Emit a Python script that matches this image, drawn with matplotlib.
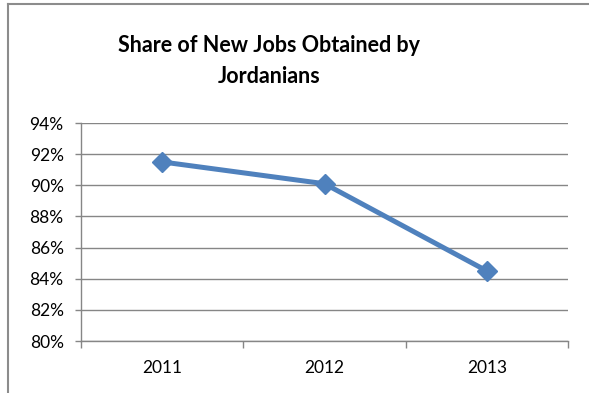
import numpy as np
import matplotlib.pyplot as plt
from matplotlib.lines import Line2D

# Share of new jobs obtained by Jordanians
years = ['2011', '2012', '2013']
share = [91.5, 90.1, 84.5]

yticks = [80, 82, 84, 86, 88, 90, 92, 94]

plt.rcParams['font.family'] = ['Lato', 'DejaVu Sans']

fig = plt.figure(figsize=(5.89, 3.93), dpi=100)
ax = fig.add_axes([81 / 589, 52 / 393, 487 / 589, 218 / 393])

x = np.arange(len(years))
ax.plot(x, share, color='#4F81BD', lw=3.6, marker='D', markersize=10,
        solid_capstyle='round', zorder=3)

ax.set_xlim(-0.5, len(years) - 0.5)
ax.set_ylim(80, 94)

ax.set_yticks(yticks)
ax.set_yticklabels([f'{v}%' for v in yticks], fontsize=12.5)
ax.yaxis.grid(True, color='#868686', lw=1)
ax.tick_params(axis='y', length=4.5, width=1, color='#868686', pad=8)

# category boundaries get the tick marks, labels sit between them
ax.set_xticks(np.arange(len(years) + 1) - 0.5)
ax.set_xticklabels([])
ax.set_xticks(x, minor=True)
ax.set_xticklabels(years, minor=True, fontsize=12.5)
ax.tick_params(axis='x', which='major', length=5, width=1, color='#868686')
ax.tick_params(axis='x', which='minor', length=0, pad=14)

for side in ['top', 'right']:
    ax.spines[side].set_visible(False)
for side in ['left', 'bottom']:
    ax.spines[side].set_color('#868686')
    ax.spines[side].set_linewidth(1)
ax.set_axisbelow(True)

fig.text(269 / 589, 1 - 61 / 393, 'Share of New Jobs Obtained by\nJordanians',
         ha='center', va='center', fontsize=15.5, fontweight='bold',
         linespacing=1.6)

# chart frame (left and top edges)
fig.add_artist(Line2D([7.5 / 589, 7.5 / 589], [0, 1 - 4 / 393],
                      color='#8c8c8c', lw=1.5, transform=fig.transFigure))
fig.add_artist(Line2D([7.5 / 589, 1], [1 - 4 / 393, 1 - 4 / 393],
                      color='#8c8c8c', lw=1.5, transform=fig.transFigure))

fig.savefig('out.png', dpi=100)
